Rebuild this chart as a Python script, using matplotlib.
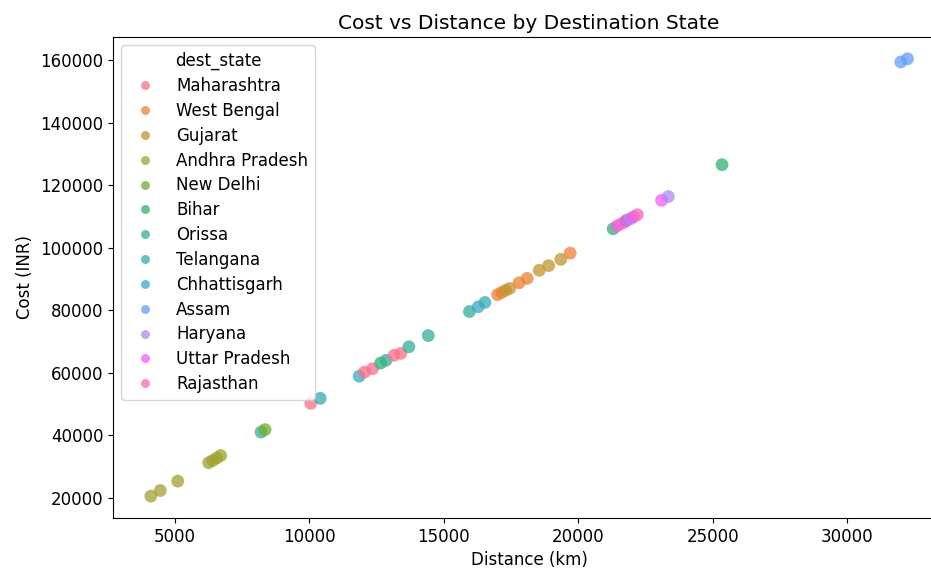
import matplotlib
matplotlib.use('Agg')
import matplotlib.pyplot as plt
import seaborn as sns
import pandas as pd

# legend order (order of first appearance in the data)
states = ['Maharashtra', 'West Bengal', 'Gujarat', 'Andhra Pradesh', 'New Delhi',
          'Bihar', 'Orissa', 'Telangana', 'Chhattisgarh', 'Assam', 'Haryana',
          'Uttar Pradesh', 'Rajasthan']

# shipments
dest_state = ['Andhra Pradesh', 'Andhra Pradesh', 'Andhra Pradesh', 'Andhra Pradesh',
              'Andhra Pradesh', 'Andhra Pradesh', 'Andhra Pradesh',
              'Orissa', 'New Delhi',
              'Maharashtra', 'Telangana',
              'Chhattisgarh', 'Maharashtra', 'Maharashtra', 'Bihar', 'Orissa',
              'Maharashtra', 'Maharashtra', 'Orissa', 'Orissa',
              'Orissa', 'Chhattisgarh', 'Telangana',
              'West Bengal', 'West Bengal', 'Gujarat', 'Gujarat', 'West Bengal',
              'West Bengal', 'Gujarat', 'Gujarat', 'Gujarat', 'West Bengal',
              'Bihar', 'Uttar Pradesh', 'Rajasthan', 'Bihar', 'Uttar Pradesh',
              'Haryana', 'Uttar Pradesh', 'Rajasthan',
              'Uttar Pradesh', 'Haryana',
              'Bihar', 'Assam', 'Assam']
distance = [4100, 4450, 5100, 6250, 6400, 6550, 6700,
            8200, 8350,
            10050, 10400,
            11850, 12050, 12350, 12650, 12850,
            13150, 13400, 13700, 14420,
            15950, 16280, 16530,
            17000, 17150, 17300, 17450, 17800,
            18100, 18550, 18900, 19350, 19700,
            21300, 21450, 21600, 21800, 21750,
            21950, 22050, 22200,
            23100, 23350,
            25350, 32000, 32250]
cost = [20500, 22300, 25300, 31200, 31900, 32700, 33500,
        41000, 41800,
        50200, 51800,
        58900, 60200, 61300, 63100, 64000,
        65600, 66200, 68300, 71900,
        79600, 81100, 82500,
        85000, 85700, 86400, 87000, 88800,
        90200, 92800, 94300, 96300, 98300,
        106100, 107000, 107700, 108800, 108400,
        109300, 109900, 110600,
        115200, 116400,
        126600, 159500, 160500]

df = pd.DataFrame({'dest_state': dest_state, 'distance_km': distance, 'cost_inr': cost})

fig = plt.figure(figsize=(9.31, 5.72), dpi=100)
ax = fig.add_axes([0.1214, 0.0944, 0.894, 0.841])

sns.scatterplot(data=df, x='distance_km', y='cost_inr', hue='dest_state',
                hue_order=states, s=85, alpha=0.75, edgecolor='none', ax=ax)

ax.set_title('Cost vs Distance by Destination State', fontsize=14.5)
ax.set_xlabel('Distance (km)', fontsize=12)
ax.set_ylabel('Cost (INR)', fontsize=12)
ax.tick_params(labelsize=12)
ax.set_xticks([5000, 10000, 15000, 20000, 25000, 30000])
ax.set_yticks([20000, 40000, 60000, 80000, 100000, 120000, 140000, 160000])

leg = ax.legend(title='dest_state', loc='upper left', fontsize=12, title_fontsize=12,
                markerscale=0.7, labelspacing=0.41, handletextpad=0.9)

fig.savefig('out.png', dpi=100)
